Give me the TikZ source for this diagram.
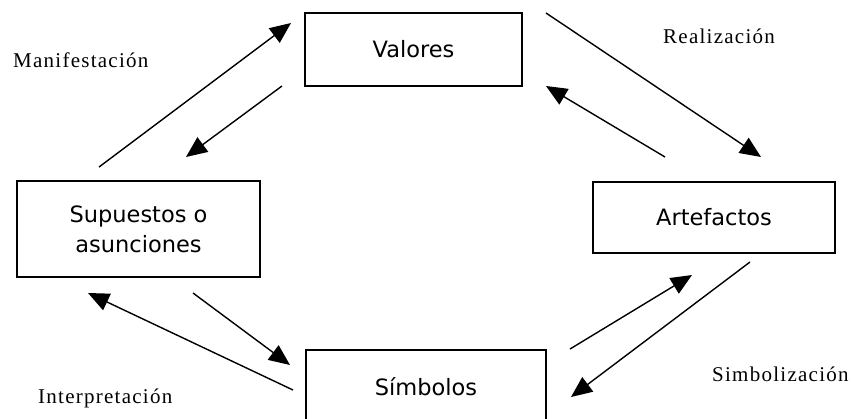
\documentclass[tikz,border=0pt]{standalone}
\usepackage{fontspec}
\setmainfont{Liberation Serif}
\newfontfamily\boxfont{DejaVu Sans}
\newfontfamily\labelfont[LetterSpace=6]{Liberation Serif}
\usetikzlibrary{arrows.meta}
\begin{document}
\begin{tikzpicture}[x=1pt,y=-1pt,
  box/.style={draw, line width=1.4pt, align=center, inner sep=0pt,
    font=\boxfont\fontsize{22.5}{30}\selectfont},
  link/.style={line width=1.4pt, -{Triangle[length=21pt,width=18pt]}},
  tag/.style={font=\labelfont\fontsize{21}{24}\selectfont,
    anchor=base west, inner sep=0pt}]
\useasboundingbox (0,0) rectangle (853,418);

% the four boxes
\node[box, minimum width=217pt, minimum height=73pt] (val) at (413.5,49.5) {Valores};
\node[box, minimum width=243pt, minimum height=96pt] (sup) at (138.5,229) {Supuestos o\\asunciones};
\node[box, minimum width=242pt, minimum height=71pt] (art) at (714,217.5) {Artefactos};
\node[box, minimum width=240pt, minimum height=73pt] (sim) at (426,386.5) {Símbolos};

% arrow end points
\coordinate (m1) at (99,167);   \coordinate (m2) at (291,23);
\coordinate (v1) at (282,86);   \coordinate (v2) at (186,157);
\coordinate (r1) at (546,13);   \coordinate (r2) at (761,157);
\coordinate (a1) at (665,157);  \coordinate (a2) at (546,86);
\coordinate (s1) at (750,262);  \coordinate (s2) at (571,397);
\coordinate (b1) at (570,349);  \coordinate (b2) at (692,275);
\coordinate (p1) at (193,293);  \coordinate (p2) at (290,365);
\coordinate (i1) at (293,390);  \coordinate (i2) at (88,293);

\draw[link] (m1) -- (m2);
\draw[link] (v1) -- (v2);
\draw[link] (r1) -- (r2);
\draw[link] (a1) -- (a2);
\draw[link] (s1) -- (s2);
\draw[link] (b1) -- (b2);
\draw[link] (p1) -- (p2);
\draw[link] (i1) -- (i2);

% labels of the cycle
\node[tag] (lm) at (13,67) {Manifestación};
\node[tag] (lr) at (663,43) {Realización};
\node[tag] (ls) at (712,381) {Simbolización};
\node[tag] (li) at (38,403) {Interpretación};
\end{tikzpicture}
\end{document}
